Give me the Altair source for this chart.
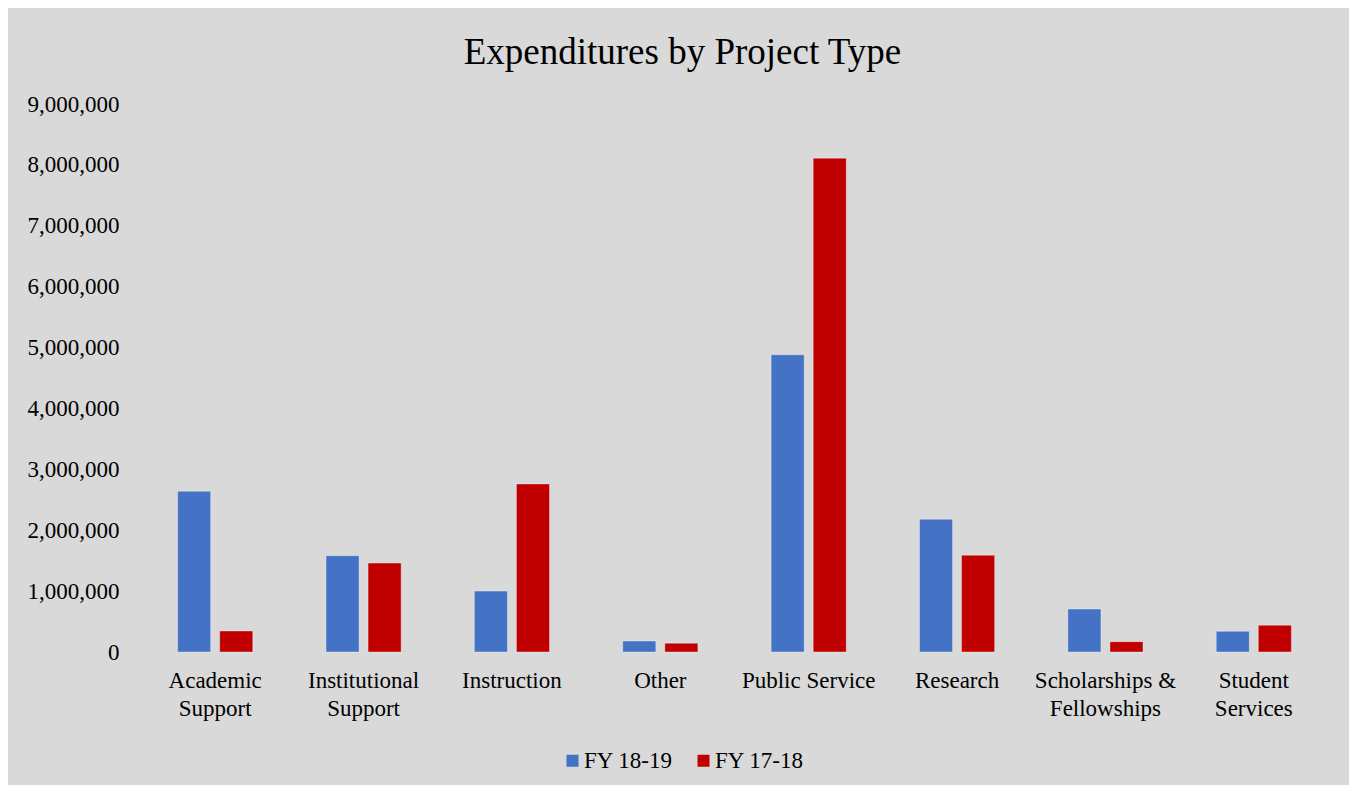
import altair as alt
import pandas as pd

categories = ["Academic Support", "Institutional Support", "Instruction", "Other",
              "Public Service", "Research", "Scholarships & Fellowships", "Student Services"]
label_lines = [["Academic", "Support"], ["Institutional", "Support"], ["Instruction"], ["Other"],
               ["Public Service"], ["Research"], ["Scholarships &", "Fellowships"], ["Student", "Services"]]
series = ["FY 18-19", "FY 17-18"]
fy1819 = [2640000, 1580000, 1000000, 180000, 4880000, 2180000, 705000, 340000]
fy1718 = [345000, 1460000, 2760000, 145000, 8110000, 1590000, 170000, 440000]
colors = ["#4472C4", "#C00000"]
y_ticks = [0, 1000000, 2000000, 3000000, 4000000, 5000000, 6000000, 7000000, 8000000, 9000000]

rows = []
for c, a, b in zip(categories, fy1819, fy1718):
    rows.append({"category": c, "series": series[0], "value": a})
    rows.append({"category": c, "series": series[1], "value": b})
df = pd.DataFrame(rows)

expr_parts = []
for c, lines in zip(categories, label_lines):
    arr = "[" + ",".join("'" + l + "'" for l in lines) + "]"
    expr_parts.append(f"datum.label == '{c}' ? {arr} : ")
label_expr = "".join(expr_parts) + "datum.label"

FONT = "Liberation Serif"

chart = alt.Chart(df).mark_bar(stroke="#ffffff", strokeOpacity=0.35, strokeWidth=1).encode(
    x=alt.X("category:N", sort=categories, title=None,
            scale=alt.Scale(paddingInner=0, paddingOuter=0),
            axis=alt.Axis(labelAngle=0, domain=False, ticks=False, labelExpr=label_expr,
                          labelFont=FONT, labelFontSize=23, labelColor="#000000",
                          labelLineHeight=28, labelPadding=17, labelBaseline="top")),
    xOffset=alt.XOffset("series:N", sort=series,
                        scale=alt.Scale(paddingInner=0.214, paddingOuter=0.87)),
    y=alt.Y("value:Q", title=None,
            scale=alt.Scale(domain=[0, 9000000], nice=False),
            axis=alt.Axis(values=y_ticks, format=",d", domain=False, ticks=False, grid=False,
                          labelFont=FONT, labelFontSize=23, labelColor="#000000",
                          labelPadding=22)),
    color=alt.Color("series:N", sort=series,
                    scale=alt.Scale(domain=series, range=colors),
                    legend=alt.Legend(title=None, orient="none", direction="horizontal",
                                      legendX=420, legendY=645,
                                      symbolType="square", symbolSize=144, symbolStrokeWidth=0,
                                      labelFont=FONT, labelFontSize=23, labelColor="#000000",
                                      labelOffset=0, columnPadding=19)),
).properties(
    width=1187,
    height=548,
    background="#d9d9d9",
    padding={"left": 133, "top": 96, "right": 21, "bottom": 133},
    autosize=alt.AutoSizeParams(type="none"),
    title=alt.Title("Expenditures by Project Type", font=FONT, fontSize=37,
                    fontWeight="normal", color="#000000", anchor="middle", offset=21, dx=-52),
).configure_view(stroke=None)

chart.save("out.html", embed_options={"renderer": "svg", "actions": False})
